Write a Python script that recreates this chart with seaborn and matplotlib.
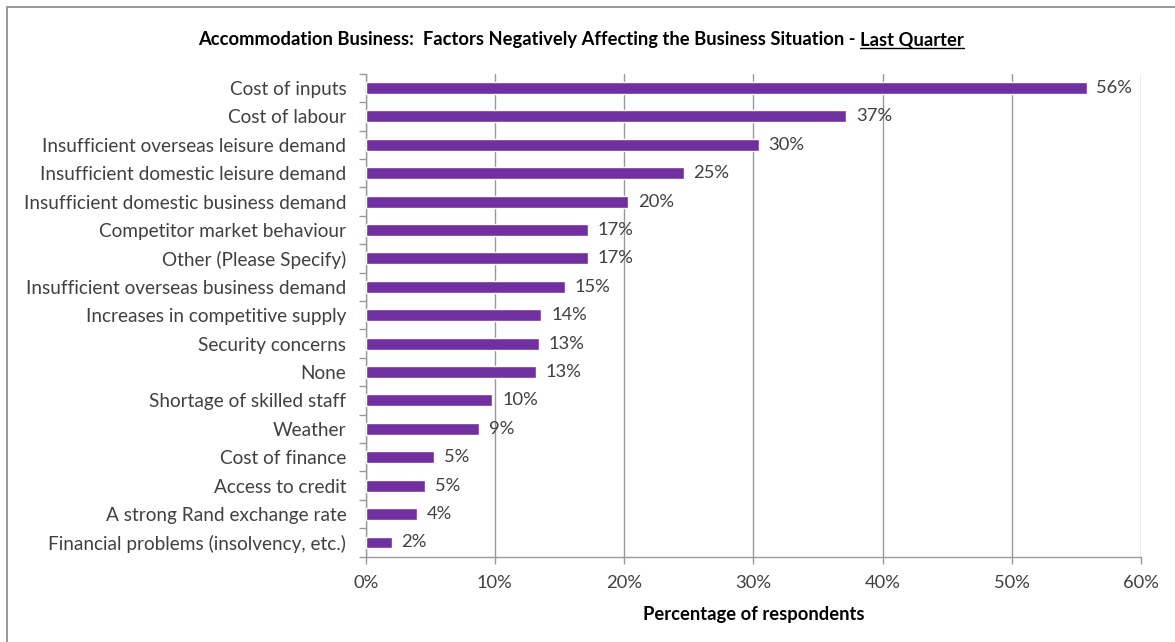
import matplotlib
matplotlib.use("Agg")
import matplotlib.pyplot as plt
from matplotlib.lines import Line2D
from matplotlib.patches import Rectangle
import seaborn as sns
import pandas as pd

# Factors and share of respondents (%)
factors = [
    "Cost of inputs",
    "Cost of labour",
    "Insufficient overseas leisure demand",
    "Insufficient domestic leisure demand",
    "Insufficient domestic business demand",
    "Competitor market behaviour",
    "Other (Please Specify)",
    "Insufficient overseas business demand",
    "Increases in competitive supply",
    "Security concerns",
    "None",
    "Shortage of skilled staff",
    "Weather",
    "Cost of finance",
    "Access to credit",
    "A strong Rand exchange rate",
    "Financial problems (insolvency, etc.)",
]
shares = [55.8, 37.2, 30.4, 24.6, 20.3, 17.2, 17.2, 15.4, 13.6, 13.4, 13.2,
          9.8, 8.8, 5.3, 4.6, 4.0, 2.0]
x_ticks = [0, 10, 20, 30, 40, 50, 60]
x_tick_labels = ["0%", "10%", "20%", "30%", "40%", "50%", "60%"]

df = pd.DataFrame({"factor": factors, "share": shares})

sns.set_theme(style="white")
plt.rcParams["font.family"] = ["Lato", "DejaVu Sans"]

W, H = 1175, 642
FS = 13.2
fig = plt.figure(figsize=(W / 100, H / 100), dpi=100)
fig.patch.set_facecolor("white")

# outer frame
fig.patches.append(Rectangle((7 / W, -0.05), 1.2, (H - 7) / H + 0.05,
                             transform=fig.transFigure, fill=False,
                             edgecolor="#868686", linewidth=1.2))

left, right, top, bottom = 365.7, 1141.0, 73.7, 556.7
ax = fig.add_axes([left / W, (H - bottom) / H, (right - left) / W, (bottom - top) / H])

bar_color = "#7030A0"
text_color = "#404040"
grid_color = "#999999"

sns.barplot(data=df, x="share", y="factor", orient="h", color=bar_color,
            width=0.42, saturation=1, ax=ax, zorder=3)

ax.set_xlim(0, 60)
ax.set_ylim(len(factors) - 0.5, -0.5)
ax.set_xticks(x_ticks)
ax.set_xticklabels(x_tick_labels, fontsize=FS, color=text_color)
ax.tick_params(axis="x", length=5, width=1, color=grid_color, pad=8, direction="out",
               bottom=True)
ax.tick_params(axis="y", length=0, pad=14, labelsize=FS + 0.5, labelcolor=text_color)
ax.set_yticks(range(len(factors)), minor=False)
ax.set_yticks([i - 0.5 for i in range(len(factors) + 1)], minor=True)
ax.tick_params(axis="y", which="minor", length=5, width=1, color=grid_color, left=True)

ax.xaxis.grid(True, color=grid_color, linewidth=1)
ax.set_axisbelow(True)
for side in ("top", "right"):
    ax.spines[side].set_visible(False)
for side in ("left", "bottom"):
    ax.spines[side].set_color(grid_color)
    ax.spines[side].set_linewidth(1)

ax.set_ylabel("")
ax.set_xlabel("Percentage of respondents", fontsize=FS, fontweight="bold",
              color="black", labelpad=11)

for i, v in enumerate(shares):
    ax.annotate(f"{v:.0f}%", xy=(v, i), xytext=(7, 0), textcoords="offset points",
                va="center", ha="left", fontsize=FS, color=text_color)

# title with underlined final part
title_main = "Accommodation Business:  Factors Negatively Affecting the Business Situation - "
title_tail = "Last Quarter"
ty = 1 - 40 / H
fig.canvas.draw()
renderer = fig.canvas.get_renderer()
t1 = fig.text(0, ty, title_main, fontsize=FS, fontweight="bold", color="black",
              va="center", ha="left")
t2 = fig.text(0, ty, title_tail, fontsize=FS, fontweight="bold", color="black",
              va="center", ha="left")
b1 = t1.get_window_extent(renderer)
b2 = t2.get_window_extent(renderer)
total = b1.width + b2.width
x0 = 581 - total / 2
t1.set_x(x0 / W)
t2.set_x((x0 + b1.width) / W)
fig.canvas.draw()
b2 = t2.get_window_extent(renderer)
uy = (b2.y0 + 1) / H
fig.add_artist(Line2D([b2.x0 / W, b2.x1 / W], [uy, uy], transform=fig.transFigure,
                      color="black", linewidth=1))

fig.savefig("out.png", dpi=100, facecolor="white")
